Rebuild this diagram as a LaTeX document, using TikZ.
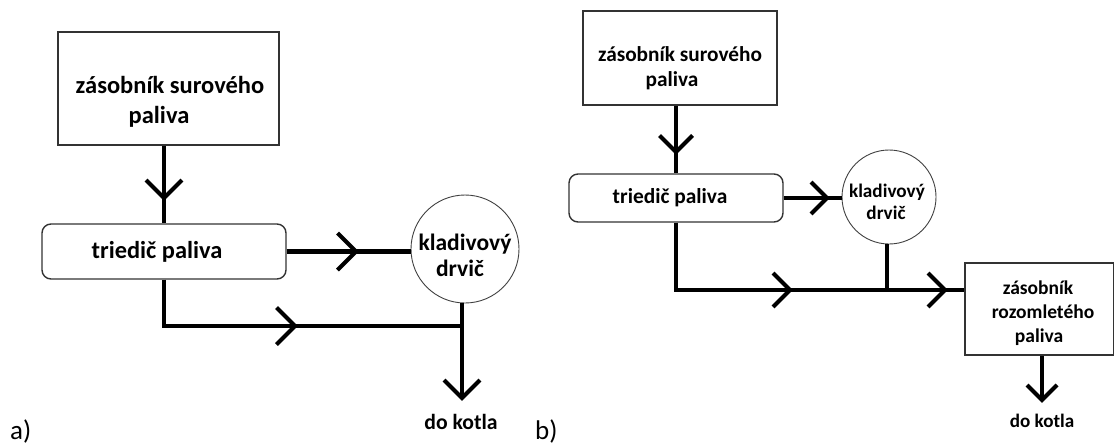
\documentclass[tikz,border=0pt]{standalone}
\usepackage{fontspec}
\setmainfont{Carlito}
\begin{document}
\begin{tikzpicture}[x=1pt,y=-1pt,
  conn/.style={line width=4.2pt, black, line cap=butt, line join=miter},
  box/.style={draw=black!80, line width=1.6pt, inner sep=0pt},
  sorter/.style={draw=black!80, line width=1.4pt, rounded corners=9pt, inner sep=0pt},
  crusher/.style={circle, draw=black!75, line width=0.9pt, inner sep=0pt},
  lbl/.style={align=center, inner sep=0pt, text=black},
  pics/vr/.style={code={\draw[conn] (-#1,-#1) -- (0,0) -- (-#1,#1);}},
  pics/vd/.style={code={\draw[conn] (-#1,-#1) -- (0,0) -- (#1,-#1);}},
]
\useasboundingbox (0,0) rectangle (1115,445);

% ---------------- a) ----------------
\node[box, minimum width=221pt, minimum height=113pt] (a1) at (168.5,88.5) {};
\node[lbl, font=\bfseries\fontsize{24.5}{30}\selectfont] (a1t) at (170,102)
  {zásobník surového\\paliva\hspace*{22pt}};
\node[sorter, minimum width=244pt, minimum height=55pt,
      font=\bfseries\fontsize{24.4}{29}\selectfont] (a2) at (164,251.5)
  {triedič paliva\hspace*{14pt}};
\node[crusher, minimum size=108pt] (a3) at (465,249) {};
\node[lbl, font=\bfseries\fontsize{23.5}{26}\selectfont] (a3t) at (465,255.3)
  {kladivový\\drvič\hspace*{10pt}};
\node[lbl, font=\bfseries\fontsize{21.7}{26}\selectfont] (a4) at (461,421.5) {do kotla};
\node[inner sep=0pt, anchor=base west, font=\fontsize{27}{32}\selectfont] (la) at (10,439) {a)};

\coordinate (ja) at (462,326);
\coordinate (ea) at (462,398);

\draw[conn] (a2.north |- a1.south) -- (a2.north);
\pic at (164,198) {vd=18};
\draw[conn] (a2.east) -- (a2.east -| a3.west);
\pic at (356,251.5) {vr=18.5};
\draw[conn] (a2.south) |- (ja);
\pic at (295,326) {vr=18.5};
\draw[conn] ([xshift=-3pt]a3.south) -- (ja) -- (ea);
\pic at (ea) {vd=18};

% ---------------- b) ----------------
\node[box, minimum width=194pt, minimum height=94pt] (b1) at (680,58) {};
\node[lbl, font=\bfseries\fontsize{21.3}{25}\selectfont] (b1t) at (680,68.2)
  {zásobník surového\\paliva\hspace*{16pt}};
\node[sorter, minimum width=214pt, minimum height=48pt,
      font=\bfseries\fontsize{21.4}{26}\selectfont] (b2) at (676,198)
  {triedič paliva\hspace*{12pt}};
\node[crusher, minimum size=94pt] (b3) at (889,197) {};
\node[lbl, font=\bfseries\fontsize{19.2}{22}\selectfont] (b3t) at (887,201.8)
  {kladivový\\drvič\hspace*{2pt}};
\node[box, minimum width=148.5pt, minimum height=92pt] (b4) at (1039.25,309) {};
\node[lbl, font=\bfseries\fontsize{19.5}{24}\selectfont] (b4t) at (1043,313.2)
  {zásobník\hspace*{10pt}\\rozomletého\\paliva\hspace*{8pt}};
\node[lbl, font=\bfseries\fontsize{19.1}{23}\selectfont] (b5) at (1042,420.8) {do kotla};
\node[inner sep=0pt, anchor=base west, font=\fontsize{27}{32}\selectfont] (lb) at (535,439) {b)};

\coordinate (jb) at (887,290);
\coordinate (eb) at (1042,400);

\draw[conn] (b2.north |- b1.south) -- (b2.north);
\pic at (676,152) {vd=16.5};
\draw[conn] (b2.east) -- (b2.east -| b3.west);
\pic at (827,198) {vr=16};
\draw[conn] (b2.south) |- (jb) -- (b4.west |- jb);
\pic at (790,290) {vr=17};
\pic at (945,290) {vr=17};
\draw[conn] ([xshift=-2pt]b3.south) -- (jb);
\draw[conn] ([xshift=2.75pt]b4.south) -- (eb);
\pic at (eb) {vd=15};
\end{tikzpicture}
\end{document}
